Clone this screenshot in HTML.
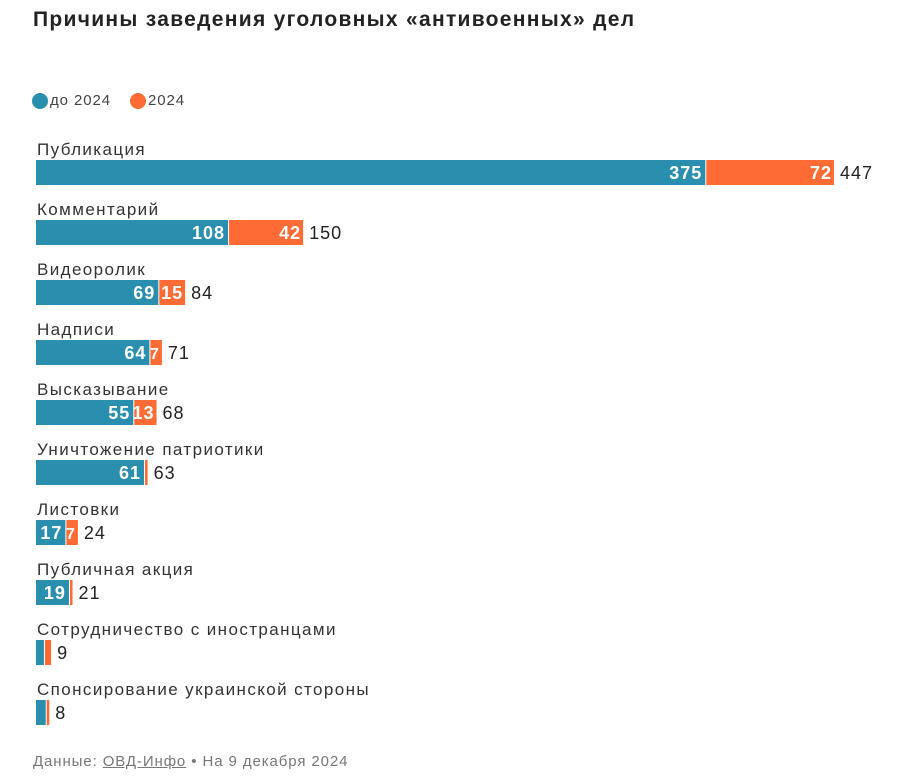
<!DOCTYPE html>
<html><head><meta charset="utf-8"><style>
body{margin:0;background:#fff;width:903px;height:779px;overflow:hidden;font-family:"Liberation Sans",sans-serif;}
#title{position:absolute;left:33px;top:8px;font-size:21px;font-weight:bold;color:#222;letter-spacing:1.3px;}
.leg{position:absolute;top:92px;font-size:15px;color:#444;display:flex;align-items:center;letter-spacing:0.9px;}
.dot{width:16px;height:16px;border-radius:50%;display:inline-block;margin-right:2px;}
#src{position:absolute;left:33px;top:753px;font-size:15px;color:#777;letter-spacing:0.9px;}
#src u{color:#777;}
svg text{letter-spacing:1px;}
</style></head><body>
<div id="title">Причины заведения уголовных «антивоенных» дел</div>
<div class="leg" style="left:32px"><span class="dot" style="background:#2a8fae"></span>до 2024</div>
<div class="leg" style="left:130px"><span class="dot" style="background:#ff6b35"></span>2024</div>
<svg id="chart" width="903" height="779" style="position:absolute;left:0;top:0"></svg>
<div id="src">Данные: <u>ОВД-Инфо</u> • На 9 декабря 2024</div>
<script>
const categories=["Публикация","Комментарий","Видеоролик","Надписи","Высказывание","Уничтожение патриотики","Листовки","Публичная акция","Сотрудничество с иностранцами","Спонсирование украинской стороны"];
const before2024=[375,108,69,64,55,61,17,19,5,6];
const in2024=[72,42,15,7,13,2,7,2,4,2];
const svg=document.getElementById('chart');
const NS="http://www.w3.org/2000/svg";
const x0=36, k=799/447;
const xs=v=>v*k;
const rowY=i=>160+i*60;
function mk(tag,attrs){const e=document.createElementNS(NS,tag);for(const a in attrs)e.setAttribute(a,attrs[a]);svg.appendChild(e);return e;}
categories.forEach((c,i)=>{
  const y=rowY(i);
  const t=mk('text',{x:37,y:y-5,'font-size':17,fill:'#333'});t.textContent=c;
  t.style.letterSpacing='1.4px';
  
  
  const wb=xs(before2024[i]), wo=xs(in2024[i]);
  const b=mk('rect',{x:x0,y:y,width:Math.max(wb-1,1),height:25,fill:'#2a8fae'});
  
  
  const o=mk('rect',{x:x0+wb,y:y,width:Math.max(wo-1,1),height:25,fill:'#ff6b35'});
  
  
  if(wb>25){const l=mk('text',{x:x0+wb-4,y:y+19,'font-size':18,'font-weight':'bold',fill:'#fff','text-anchor':'end'});l.textContent=before2024[i];
    
    }
  if(in2024[i]>=7){const l=mk('text',{x:x0+wb+wo-3,y:y+19,'font-size':18,'font-weight':'bold',fill:'#fff','text-anchor':'end'});l.textContent=in2024[i];
    if(wo<20)l.setAttribute('font-size',16);
    
    }
  const tot=mk('text',{x:x0+wb+wo+5,y:y+19,'font-size':18,fill:'#222'});tot.textContent=before2024[i]+in2024[i];
  
  
});
</script>
</body></html>
